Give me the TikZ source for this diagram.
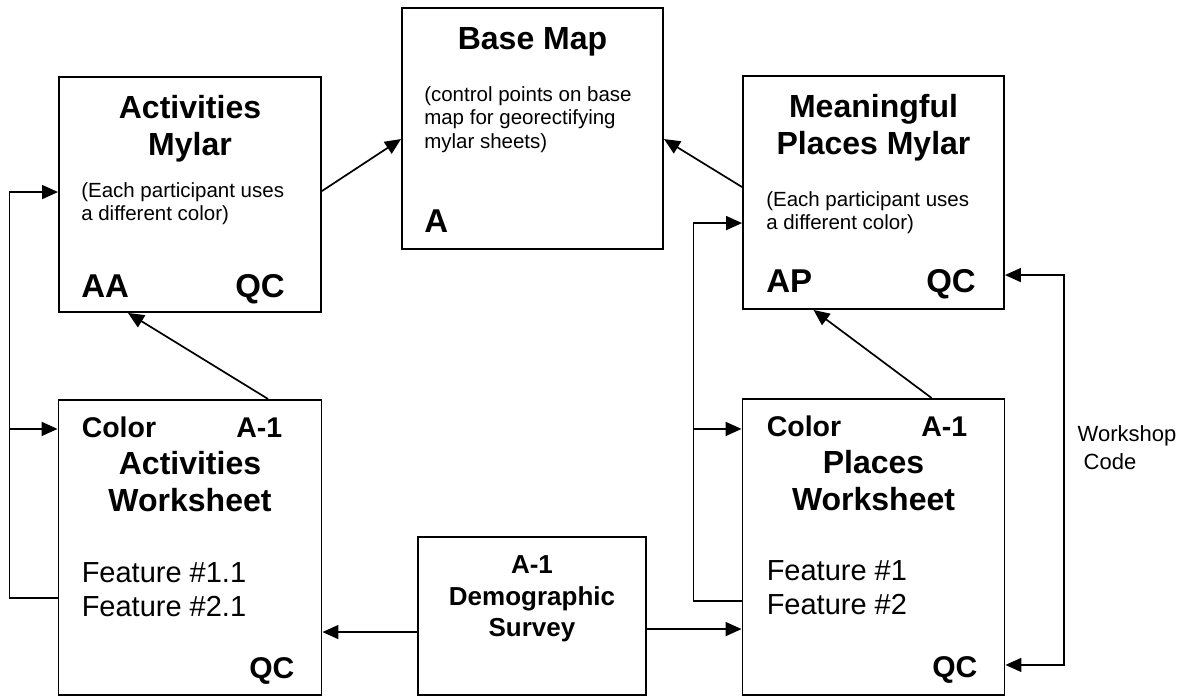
\documentclass[tikz,border=0pt]{standalone}
\usepackage{fontspec}
\setmainfont{Liberation Sans}
\usepackage{tikz}
\usetikzlibrary{calc, arrows.meta, positioning}

\newcommand{\headfont}{\fontsize{32}{37}\selectfont\bfseries}
\newcommand{\notefont}{\fontsize{20.5}{23.5}\selectfont}
\newcommand{\codefont}{\fontsize{33}{38}\selectfont\bfseries}
\newcommand{\subfont}{\fontsize{28.5}{34}\selectfont\bfseries}
\newcommand{\qcfont}{\fontsize{30}{36}\selectfont\bfseries}
\newcommand{\featfont}{\fontsize{29}{34}\selectfont}
\newcommand{\demofont}{\fontsize{26}{31.5}\selectfont\bfseries}
\newcommand{\labelfont}{\fontsize{22}{28}\selectfont}

\begin{document}
\begin{tikzpicture}[
        x=1pt, y=-1pt,
        box/.style = {draw, rectangle, line width=1.9pt, inner sep=0pt},
        headtxt/.style = {font=\headfont, align=center, inner sep=0pt},
        notetxt/.style = {font=\notefont, align=left, inner sep=0pt},
        codetxt/.style = {font=\codefont, inner sep=0pt},
        subtxt/.style = {font=\subfont, inner sep=0pt},
        qctxt/.style = {font=\qcfont, inner sep=0pt},
        feattxt/.style = {font=\featfont, align=left, inner sep=0pt},
        demotxt/.style = {font=\demofont, align=center, inner sep=0pt},
        arrow/.style = {draw, line width=1.7pt, -{Triangle[length=16pt, width=14pt]}},
        twoway/.style = {arrow, {Triangle[length=16pt, width=14pt]}-{Triangle[length=16pt, width=14pt]}}
    ]
        \useasboundingbox (0,0) rectangle (1190,698);

        % boxes
        \node (am) [box, minimum width=262pt, minimum height=235pt] at (190,194.5) {};
        \node (aw) [box, minimum width=263pt, minimum height=295pt, below=86pt of am] {};
        \node (bm) [box, minimum width=261pt, minimum height=241pt] at (532.5,128.5) {};
        \node (mm) [box, minimum width=261pt, minimum height=233pt] at (873.5,192.5) {};
        \node (pw) [box, minimum width=262pt, minimum height=296pt, below=88pt of mm] {};
        \node (ds) [box, minimum width=228pt, minimum height=158pt] at (532,616) {};

        % activities mylar
        \node (amtitle) [headtxt, anchor=north] at ($(am.north)+(0,19)$) {Activities\\Mylar};
        \node (amnote) [notetxt, anchor=north west] at ($(am.north west)+(23,106)$) {(Each participant uses\\a different color)};
        \node (amcode) [codetxt, anchor=base west] at ($(am.north west)+(23,221)$) {AA};
        \node (amqc) [codetxt, anchor=base east] at ($(am.north east)+(-37,221)$) {QC};

        % base map
        \node (bmtitle) [headtxt, anchor=base] at ($(bm.north)+(0,42)$) {Base Map};
        \node (bmnote) [notetxt, anchor=north west] at ($(bm.north west)+(23,79)$) {(control points on base\\map for georectifying\\mylar sheets)};
        \node (bmcode) [codetxt, anchor=base west] at ($(bm.north west)+(23,225)$) {A};

        % meaningful places mylar
        \node (mmtitle) [headtxt, anchor=north] at ($(mm.north)+(0,19)$) {Meaningful\\Places Mylar};
        \node (mmnote) [notetxt, anchor=north west] at ($(mm.north west)+(24,116)$) {(Each participant uses\\a different color)};
        \node (mmcode) [codetxt, anchor=base west] at ($(mm.north west)+(24,217)$) {AP};
        \node (mmqc) [codetxt, anchor=base east] at ($(mm.north east)+(-29,217)$) {QC};

        % activities worksheet
        \node (awcolor) [subtxt, anchor=base west] at ($(aw.north west)+(24,39)$) {Color};
        \node (awsheet) [subtxt, anchor=base east] at ($(aw.north east)+(-40,39)$) {A-1};
        \node (awtitle) [headtxt, anchor=north] at ($(aw.north)+(0,52)$) {Activities\\Worksheet};
        \node (awfeat) [feattxt, anchor=north west] at ($(aw.north west)+(24,163)$) {Feature \#1.1\\Feature \#2.1};
        \node (awqc) [qctxt, anchor=base east] at ($(aw.north east)+(-28,280)$) {QC};

        % places worksheet
        \node (pwcolor) [subtxt, anchor=base west] at ($(pw.north west)+(25,39)$) {Color};
        \node (pwsheet) [subtxt, anchor=base east] at ($(pw.north east)+(-38,39)$) {A-1};
        \node (pwtitle) [headtxt, anchor=north] at ($(pw.north)+(0,52)$) {Places\\Worksheet};
        \node (pwfeat) [feattxt, anchor=north west] at ($(pw.north west)+(25,162)$) {Feature \#1\\Feature \#2};
        \node (pwqc) [qctxt, anchor=base east] at ($(pw.north east)+(-28,280)$) {QC};

        % demographic survey
        \node (dstitle) [demotxt, anchor=north] at ($(ds.north)+(0,19.5)$) {A-1\\Demographic\\Survey};

        % workshop code label
        \node (wcode) [font=\labelfont, align=left, inner sep=0pt, anchor=north west] at ($(pw.north east)+(72,27)$) {Workshop\\\hspace*{6pt}Code};

        % connectors
        \draw [arrow] ([yshift=-115pt]am.north east) -- ([yshift=-132pt]bm.north west);
        \draw [arrow] ([yshift=-112pt]mm.north west) -- ([yshift=-132pt]bm.north east);
        \draw [arrow] ([xshift=78pt]aw.north) -- ([xshift=-62pt]am.south);
        \draw [arrow] ([xshift=58pt]pw.north) -- ([xshift=-60pt]mm.south);

        \draw [arrow] ([yshift=-199pt]aw.north west) -- ++(-48,0) |- ([yshift=-116pt]am.north west);
        \draw [arrow] ([xshift=-48pt, yshift=-30pt]aw.north west) -- ([yshift=-30pt]aw.north west);
        \draw [arrow] ([yshift=-203pt]pw.north west) -- ++(-48,0) |- ([yshift=-148pt]mm.north west);
        \draw [arrow] ([xshift=-48pt, yshift=-31pt]pw.north west) -- ([yshift=-31pt]pw.north west);

        \draw [arrow] ([yshift=-96pt]ds.north west) coordinate (dsw) -- (dsw -| aw.east);
        \draw [arrow] ([yshift=-93pt]ds.north east) coordinate (dse) -- (dse -| pw.west);
        \draw [twoway] ([yshift=-200pt]mm.north east) -- ++(59,0) |- ([yshift=-267pt]pw.north east);

    \end{tikzpicture}
\end{document}
